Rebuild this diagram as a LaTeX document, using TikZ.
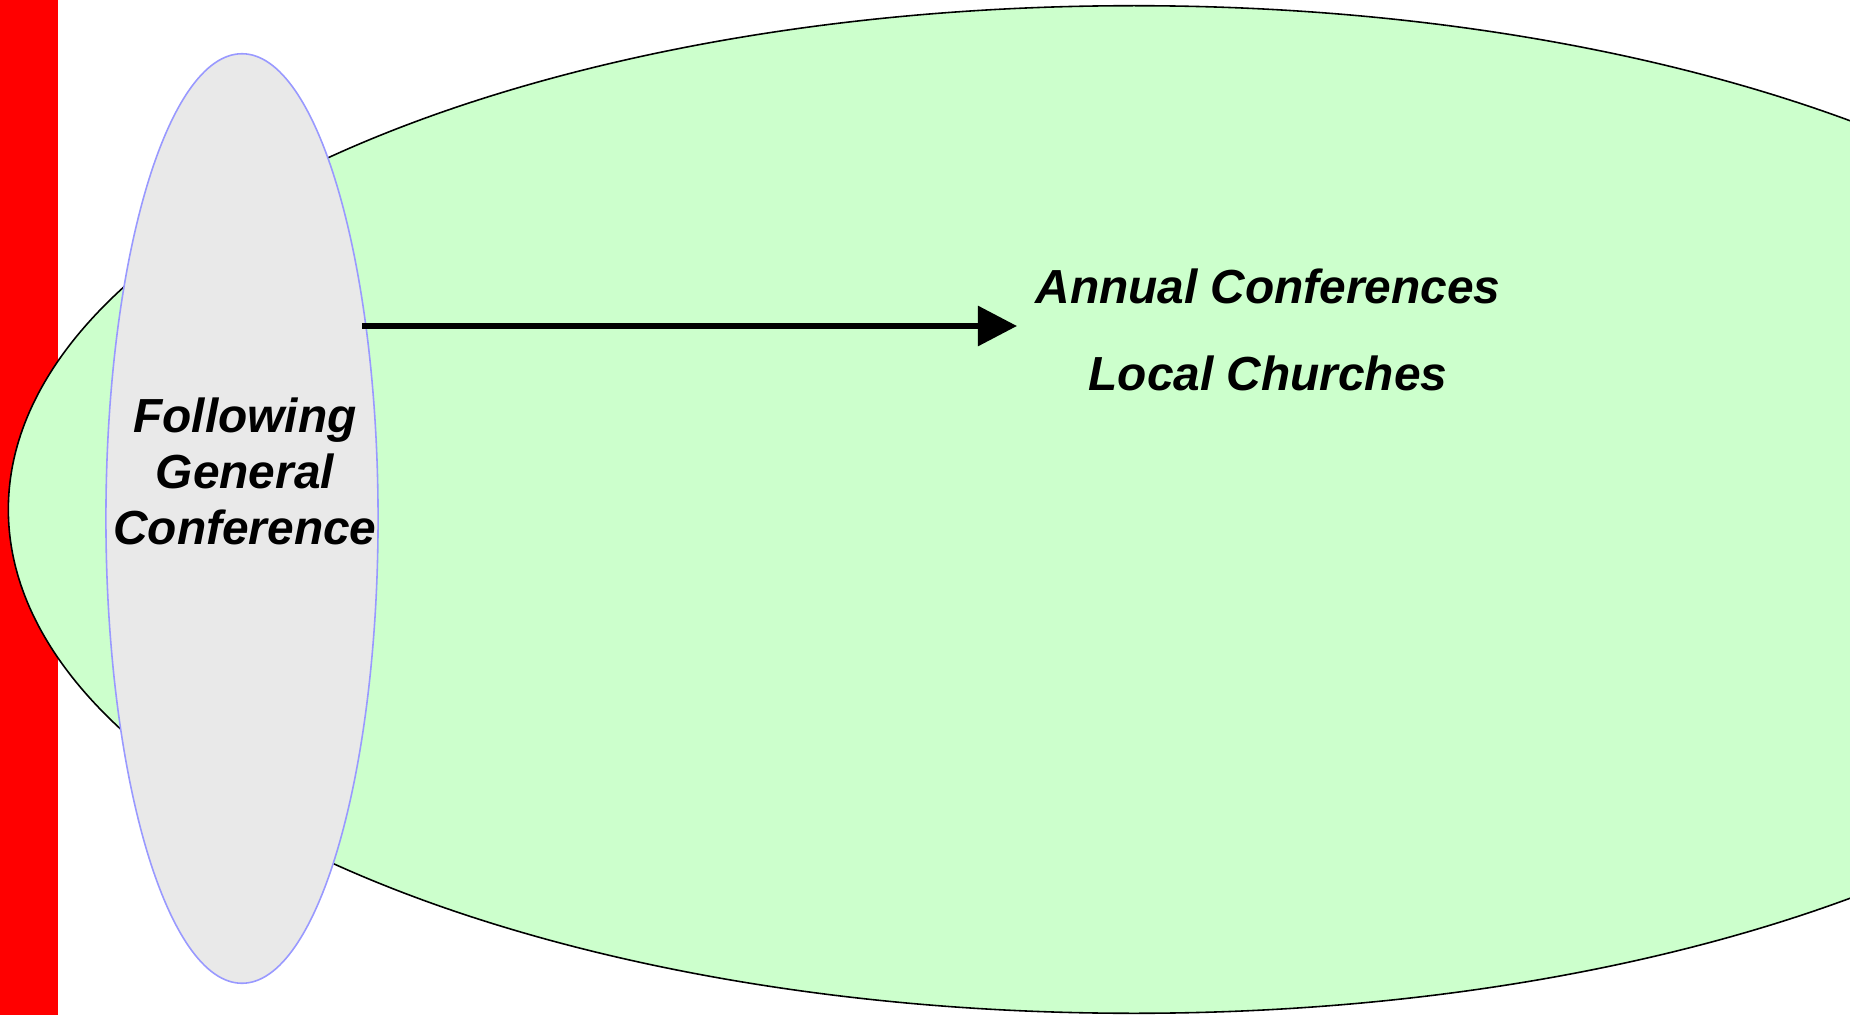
\documentclass[tikz,border=0pt]{standalone}
\usepackage{fontspec}
\setmainfont{Liberation Sans}
\usetikzlibrary{arrows.meta,shapes.geometric}
\definecolor{mint}{HTML}{CCFFCC}
\definecolor{pale}{HTML}{E9E9E9}
\definecolor{lav}{HTML}{9999FF}
\tikzset{
  outer/.style={ellipse,draw=black,line width=.45pt,fill=mint,inner sep=0pt,
                minimum width=22.5cm,minimum height=10.07cm},
  inner/.style={ellipse,draw=lav,line width=.45pt,fill=pale,inner sep=0pt,
                minimum width=2.72cm,minimum height=9.29cm},
  lbl/.style ={font=\fontsize{13.6}{15.9}\selectfont\bfseries\itshape,
               align=center,inner sep=0pt},
  ar/.style  ={-{Triangle[length=3.9mm,width=3.9mm]},line width=1.7pt},
}
\begin{document}
\begin{tikzpicture}[x=0.01cm,y=-0.01cm]
  \useasboundingbox (0,0) rectangle (1850,1015);
  \clip (0,0) rectangle (1850,1015);
  \fill[red] (0,0) rectangle (58,1015);
  \node[outer] (conf) at (1134,509.5) {};
  \node[inner] (gc) at (242,518.5) {};
  \node[lbl] (gctxt) at (245,471) {Following\\General\\Conference};
  \node[lbl,anchor=base] (annual) at (1268,304) {Annual Conferences};
  \node[lbl,anchor=base] (local)  at (1268,390) {Local Churches};
  \coordinate (from) at (362,326);
  \coordinate (to)   at (1017,326);
  \draw[ar] (from) -- (to);
\end{tikzpicture}
\end{document}
